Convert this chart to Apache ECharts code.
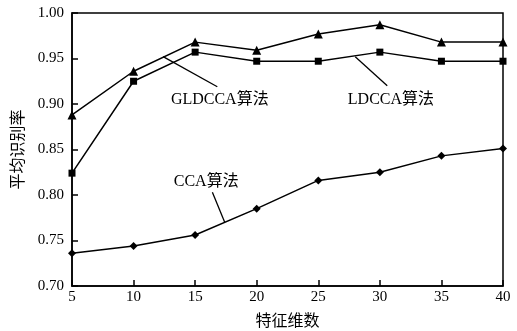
<!DOCTYPE html>
<html>
<head>
<meta charset="utf-8">
<script src="https://cdn.jsdelivr.net/npm/echarts@6/dist/echarts.min.js"></script>
<style>html,body{margin:0;padding:0;background:#fff}#c{width:517px;height:331px}</style>
</head>
<body>
<div id="c"></div>
<script>
// Feature dimensions on the x axis
const dims = [5, 10, 15, 20, 25, 30, 35, 40];
// Average recognition rate of each method
const gldcca = [0.888, 0.936, 0.968, 0.959, 0.977, 0.987, 0.968, 0.968];
const ldcca  = [0.824, 0.925, 0.957, 0.947, 0.947, 0.957, 0.947, 0.947];
const cca    = [0.736, 0.744, 0.756, 0.785, 0.816, 0.825, 0.843, 0.851];
const yTicks = ['0.70', '0.75', '0.80', '0.85', '0.90', '0.95', '1.00'];

// Callout labels: text, text anchor, leader start, leader end (data coordinates)
const callouts = [
  { text: 'GLDCCA算法', at: [17.0, 0.905], from: [12.4, 0.952], to: [16.8, 0.919] },
  { text: 'LDCCA算法',  at: [30.9, 0.905], from: [28.0, 0.952], to: [30.6, 0.920] },
  { text: 'CCA算法',    at: [15.9, 0.814], to: [16.4, 0.803], from: [17.4, 0.770] }
];

const FONT = "'Liberation Serif', 'Times New Roman', 'Noto Sans CJK SC', serif";
const chart = echarts.init(document.getElementById('c'), null, { renderer: 'canvas' });

function pairs(ys) { return dims.map((x, i) => [x, ys[i]]); }
function line(name, ys, symbol, size) {
  return {
    name, type: 'line', data: pairs(ys), symbol, symbolSize: size,
    lineStyle: { color: '#000', width: 1.5 },
    itemStyle: { color: '#000' },
    animation: false
  };
}

chart.setOption({
  backgroundColor: '#fff',
  animation: false,
  grid: {
    left: 72, right: 14, top: 13, bottom: 45,
    outerBoundsMode: 'none', containLabel: false,
    show: true, borderColor: '#000', borderWidth: 1.5
  },
  xAxis: {
    type: 'value', min: 5, max: 40, interval: 5,
    name: '特征维数', nameLocation: 'middle', nameGap: 28,
    nameTextStyle: { fontFamily: FONT, fontSize: 16, color: '#000' },
    axisLine: { lineStyle: { color: '#000', width: 1.5 } },
    axisTick: { inside: true, length: 6, lineStyle: { color: '#000', width: 1.5 } },
    axisLabel: { fontFamily: FONT, fontSize: 15, color: '#000', margin: 4 },
    splitLine: { show: false }
  },
  yAxis: {
    type: 'value', min: 0.70, max: 1.00, interval: 0.05,
    name: '平均识别率', nameLocation: 'middle', nameGap: 43, nameRotate: 90,
    nameTextStyle: { fontFamily: FONT, fontSize: 16, color: '#000' },
    axisLine: { show: true, lineStyle: { color: '#000', width: 1.5 } },
    axisTick: { show: true, inside: true, length: 6, lineStyle: { color: '#000', width: 1.5 } },
    axisLabel: {
      fontFamily: FONT, fontSize: 15, color: '#000', margin: 8,
      formatter: v => yTicks[Math.round((v - 0.70) / 0.05)] ?? v.toFixed(2)
    },
    splitLine: { show: false }
  },
  series: [
    line('GLDCCA算法', gldcca, 'triangle', 9),
    line('LDCCA算法', ldcca, 'rect', 7),
    line('CCA算法', cca, 'diamond', 8)
  ]
});

// Callout text and leader lines placed through the axis scales
function drawCallouts() {
  const els = [];
  callouts.forEach(c => {
    const p = chart.convertToPixel({ gridIndex: 0 }, c.at);
    const a = chart.convertToPixel({ gridIndex: 0 }, c.from);
    const b = chart.convertToPixel({ gridIndex: 0 }, c.to);
    els.push({
      type: 'line', silent: true,
      shape: { x1: a[0], y1: a[1], x2: b[0], y2: b[1] },
      style: { stroke: '#000', lineWidth: 1.3 }
    });
    els.push({
      type: 'text', silent: true, x: p[0], y: p[1],
      style: { text: c.text, font: '16px ' + FONT, fill: '#000', align: 'center', verticalAlign: 'middle' }
    });
  });
  chart.setOption({ graphic: { elements: els } });
}
drawCallouts();
</script>
</body>
</html>
